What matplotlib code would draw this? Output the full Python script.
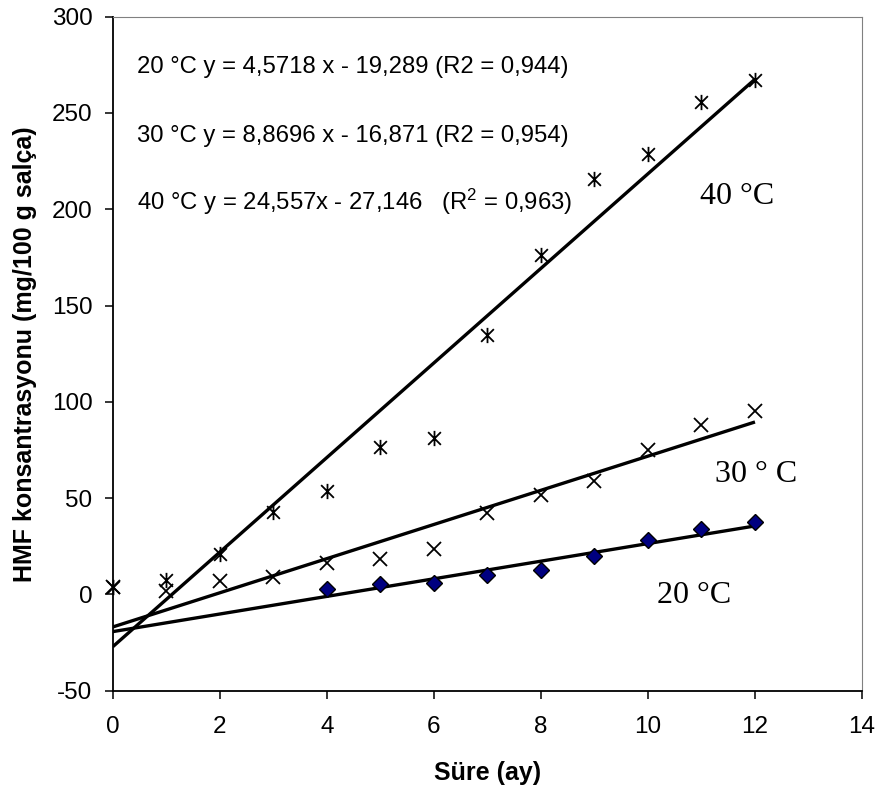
import numpy as np
import matplotlib
matplotlib.use("Agg")
import matplotlib.pyplot as plt
from matplotlib.path import Path

plt.rcParams['font.family'] = ['Liberation Sans', 'DejaVu Sans']
plt.rcParams['mathtext.fontset'] = 'custom'
plt.rcParams['mathtext.rm'] = 'Liberation Sans'
plt.rcParams['mathtext.it'] = 'Liberation Sans'
plt.rcParams['axes.unicode_minus'] = False

# ---- data ----
months_20 = [4, 5, 6, 7, 8, 9, 10, 11, 12]
hmf_20 = [3, 5.6, 6.1, 10.2, 12.5, 19.8, 28.1, 34.2, 37.7]

months_30 = [0, 1, 2, 3, 4, 5, 6, 7, 8, 9, 10, 11, 12]
hmf_30 = [4, 2, 6.9, 9, 16.3, 18.2, 23.8, 42.4, 51.6, 59, 75, 88, 95.3]

months_40 = [0, 1, 2, 3, 4, 5, 6, 7, 8, 9, 10, 11, 12]
hmf_40 = [4, 7.3, 20.8, 43, 53.6, 76.7, 81, 134.7, 176.3, 215.6, 228.6, 255.9, 267.3]

slopes = [4.5718, 8.8696, 24.557]
intercepts = [-19.289, -16.871, -27.146]
fit_range = [0, 12]

equations = [
    "20 °C y = 4,5718 x - 19,289 (R2 = 0,944)",
    "30 °C y = 8,8696 x - 16,871 (R2 = 0,954)",
    "40 °C y = 24,557x - 27,146   (R$^2$ = 0,963)",
]
series_labels = ["20 °C", "30 ° C", "40 °C"]

x_ticks = [0, 2, 4, 6, 8, 10, 12, 14]
y_ticks = [-50, 0, 50, 100, 150, 200, 250, 300]

# ---- figure ----
fig = plt.figure(figsize=(8.78, 7.94), dpi=100)
ax = fig.add_axes([0.1284, 0.130, 0.8534, 0.849])

# trend lines
xf = np.array(fit_range, dtype=float)
for m, b in zip(slopes, intercepts):
    ax.plot(xf, m * xf + b, color='black', lw=2.4, solid_capstyle='butt', zorder=2)

# markers
star = Path([(-1, -1), (1, 1), (-1, 1), (1, -1), (0, -1.2), (0, 1.2)],
            [Path.MOVETO, Path.LINETO, Path.MOVETO, Path.LINETO, Path.MOVETO, Path.LINETO])
ax.plot(months_40, hmf_40, ls='none', marker=star, ms=11, mew=1.3,
        mec='black', mfc='none', zorder=3, clip_on=False)
ax.plot(months_30, hmf_30, ls='none', marker='x', ms=10, mew=1.3,
        color='black', zorder=3, clip_on=False)
ax.plot(months_20, hmf_20, ls='none', marker='D', ms=8, mew=1.0,
        mec='black', mfc='#000080', zorder=4)

ax.set_xlim(0, 14)
ax.set_ylim(-50, 300)
ax.set_xticks(x_ticks)
ax.set_yticks(y_ticks)

for s in ['left', 'bottom']:
    ax.spines[s].set_color('black')
    ax.spines[s].set_linewidth(1.3)
for s in ['top', 'right']:
    ax.spines[s].set_color('#808080')
    ax.spines[s].set_linewidth(0.8)

ax.tick_params(axis='both', direction='out', length=5.5, width=1.1,
               labelsize=17.5, colors='black')
ax.tick_params(axis='y', pad=9)
ax.tick_params(axis='x', pad=13)

ax.set_xlabel("Süre (ay)", fontsize=18, fontweight='bold', labelpad=16)
ax.set_ylabel("HMF konsantrasyonu (mg/100 g salça)", fontsize=18,
              fontweight='bold', labelpad=11)

# equations
eq_y = [270.6, 235.1, 199.6]
for t, yy in zip(equations, eq_y):
    ax.text(0.45, yy, t, fontsize=17.2, va='baseline', ha='left', color='black')

# series labels (serif)
lab_pos = [(10.16, -4.3), (11.26, 58.6), (10.98, 202.7)]
for t, (xx, yy) in zip(series_labels, lab_pos):
    ax.text(xx, yy, t, fontsize=23, family='Liberation Serif',
            va='baseline', ha='left', color='black')

fig.savefig("out.png", dpi=100)
